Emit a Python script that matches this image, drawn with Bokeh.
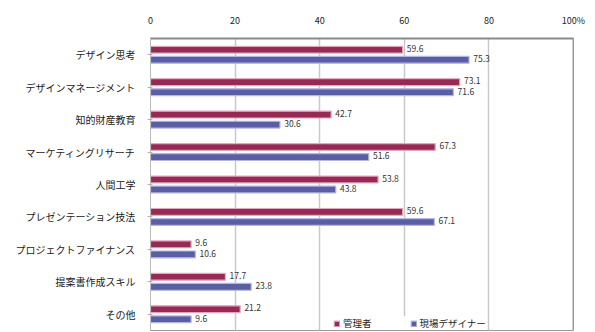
from bokeh.plotting import figure
from bokeh.models import FactorRange, Range1d, Legend, LegendItem, ColumnDataSource, FixedTicker, Span
from bokeh.transform import dodge
from bokeh.core.properties import value
from bokeh.embed import file_html
from bokeh.resources import INLINE

categories = ["デザイン思考", "デザインマネージメント", "知的財産教育", "マーケティングリサーチ",
              "人間工学", "プレゼンテーション技法", "プロジェクトファイナンス", "提案書作成スキル", "その他"]
managers = [59.6, 73.1, 42.7, 67.3, 53.8, 59.6, 9.6, 17.7, 21.2]
designers = [75.3, 71.6, 30.6, 51.6, 43.8, 67.1, 10.6, 23.8, 9.6]
series_names = ["管理者", "現場デザイナー"]
x_ticks = [0, 20, 40, 60, 80, 100]

FONT = "Noto Sans CJK JP"
C_MGR = "#962a55"
C_DES = "#5a5ea4"

src = ColumnDataSource(dict(
    cat=categories,
    mgr=managers,
    des=designers,
    mgr_lbl=[f"{v:.1f}" for v in managers],
    des_lbl=[f"{v:.1f}" for v in designers],
))

p = figure(width=595, height=332, output_backend="svg", toolbar_location=None,
           y_range=FactorRange(*reversed(categories), range_padding=0),
           x_range=Range1d(0, 100), x_axis_location="above",
           min_border_left=150, min_border_right=22, min_border_top=38, min_border_bottom=2)

yr = p.y_range
r1 = p.hbar(y=dodge("cat", 0.155, range=yr), right="mgr", left=0, height=0.21, source=src,
            fill_color=C_MGR, line_color="#e3a6bf", line_width=1.2)
r2 = p.hbar(y=dodge("cat", -0.155, range=yr), right="des", left=0, height=0.21, source=src,
            fill_color=C_DES, line_color="#b3b6e0", line_width=1.2)

p.text(x=dodge("mgr", 1.0), y=dodge("cat", 0.2, range=yr), text="mgr_lbl", source=src,
       text_font=value(FONT), text_font_size="8.5px", text_color="#333333", text_baseline="middle")
p.text(x=dodge("des", 1.0), y=dodge("cat", -0.12, range=yr), text="des_lbl", source=src,
       text_font=value(FONT), text_font_size="8.5px", text_color="#333333", text_baseline="middle")

p.xgrid.ticker = FixedTicker(ticks=[20, 40, 60, 80])
p.xgrid.grid_line_color = "#c9c9c9"
p.xgrid.grid_line_width = 1.5
p.ygrid.grid_line_color = None
p.add_layout(Span(location=100, dimension="height", line_color="#9a9a9a", line_width=2))

p.xaxis.ticker = FixedTicker(ticks=x_ticks)
p.xaxis.major_label_overrides = {100: "100%"}
p.xaxis.major_label_text_font = FONT
p.xaxis.major_label_text_font_size = "9px"
p.xaxis.major_label_text_color = "#222222"
p.xaxis.major_label_standoff = 12
p.xaxis.major_tick_out = 0
p.xaxis.major_tick_in = 0
p.xaxis.minor_tick_line_color = None
p.xaxis.axis_line_color = "#8a8a8a"
p.xaxis.axis_line_width = 2

p.yaxis.major_label_text_font = FONT
p.yaxis.major_label_text_font_size = "10px"
p.yaxis.major_label_text_color = "#222222"
p.yaxis.major_label_standoff = 12
p.yaxis.major_tick_out = 3
p.yaxis.major_tick_line_color = "#d9a0b8"
p.yaxis.axis_line_color = "#bbbbbb"

p.outline_line_color = "#9a9a9a"
p.outline_line_width = 1

legend = Legend(items=[LegendItem(label=series_names[0], renderers=[r1]),
                       LegendItem(label=series_names[1], renderers=[r2])],
                orientation="horizontal", location=(183, 0),
                label_text_font=FONT, label_text_font_size="9.5px", label_text_color="#222222",
                glyph_width=7, glyph_height=7, spacing=38, padding=2, margin=2,
                border_line_color=None, background_fill_alpha=0.9, label_standoff=3)
p.add_layout(legend)

open("out.html", "w").write(file_html(p, INLINE))
